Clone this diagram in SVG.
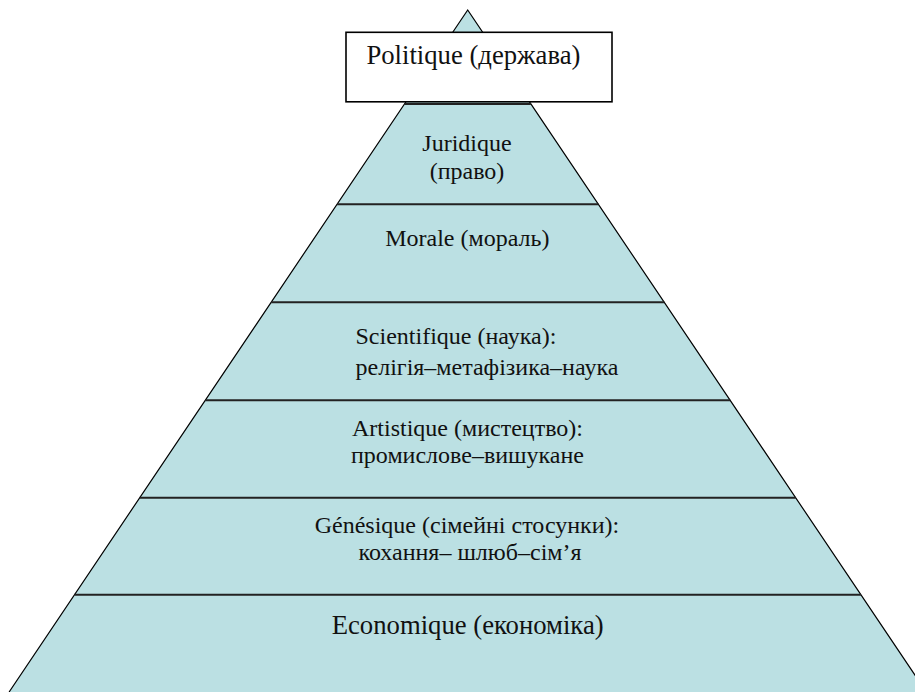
<svg xmlns="http://www.w3.org/2000/svg" width="915" height="692" viewBox="0 0 915 692">
<style>
.band{fill:#bbe0e3;stroke:none}
.div{stroke:#222;stroke-width:2;fill:none}
.edge{fill:none;stroke:#000;stroke-width:1.2}
text{font-family:'Liberation Serif','Times New Roman',Tinos,'DejaVu Serif',serif;fill:#111}
.t{font-size:24px}
.tb{font-size:26.7px}
.m{text-anchor:middle}
</style>
<rect width="915" height="692" fill="#fff"/>
<g id="pyramid">
  <g id="band-top"><polygon class="band" points="467.7,10 530.9,104 404.5,104"/></g>
  <g id="juridique">
    <polygon class="band" points="404.5,104 530.9,104 598.4,204.3 337,204.3"/>
    <text class="t m" x="467" y="150.5" font-family="Liberation Serif, DejaVu Serif, serif">Juridique</text>
    <text class="t m" x="467" y="178.5" font-family="Liberation Serif, DejaVu Serif, serif">(право)</text>
  </g>
  <g id="morale">
    <polygon class="band" points="337,204.3 598.4,204.3 664.3,302.3 271.1,302.3"/>
    <text class="t m" x="467.3" y="245.5">Morale (мораль)</text>
  </g>
  <g id="scientifique">
    <polygon class="band" points="271.1,302.3 664.3,302.3 730.2,400.3 205.2,400.3"/>
    <text class="t" x="355.5" y="344.3">Scientifique (наука):</text>
    <text class="t" x="355.5" y="375">релігія–метафізика–наука</text>
  </g>
  <g id="artistique">
    <polygon class="band" points="205.2,400.3 730.2,400.3 795.7,497.7 139.7,497.7"/>
    <text class="t m" x="467.5" y="435.7">Artistique (мистецтво):</text>
    <text class="t m" x="467.5" y="463.3">промислове–вишукане</text>
  </g>
  <g id="genesique">
    <polygon class="band" points="139.7,497.7 795.7,497.7 860.9,594.7 74.5,594.7"/>
    <text class="t m" x="467" y="532.7">Génésique (сімейні стосунки):</text>
    <text class="t m" x="470" y="560">кохання– шлюб–сім’я</text>
  </g>
  <g id="economique">
    <polygon class="band" points="74.5,594.7 860.9,594.7 926.3,692 9.1,692"/>
    <text class="tb m" x="467.7" y="634.3">Economique (економіка)</text>
  </g>
</g>
<g id="connectors">
  <polyline class="edge" points="9.1,692 467.7,10 926.3,692"/>
  <line class="div" x1="404.5" y1="104" x2="530.9" y2="104"/>
  <line class="div" x1="337" y1="204.3" x2="598.4" y2="204.3"/>
  <line class="div" x1="271.1" y1="302.3" x2="664.3" y2="302.3"/>
  <line class="div" x1="205.2" y1="400.3" x2="730.2" y2="400.3"/>
  <line class="div" x1="139.7" y1="497.7" x2="795.7" y2="497.7"/>
  <line class="div" x1="74.5" y1="594.7" x2="860.9" y2="594.7"/>
</g>
<g id="politique">
  <rect x="346" y="32.3" width="266" height="69.5" fill="#fff" stroke="#000" stroke-width="1.6"/>
  <text class="tb m" x="473.4" y="63.5">Politique (держава)</text>
</g>
</svg>
